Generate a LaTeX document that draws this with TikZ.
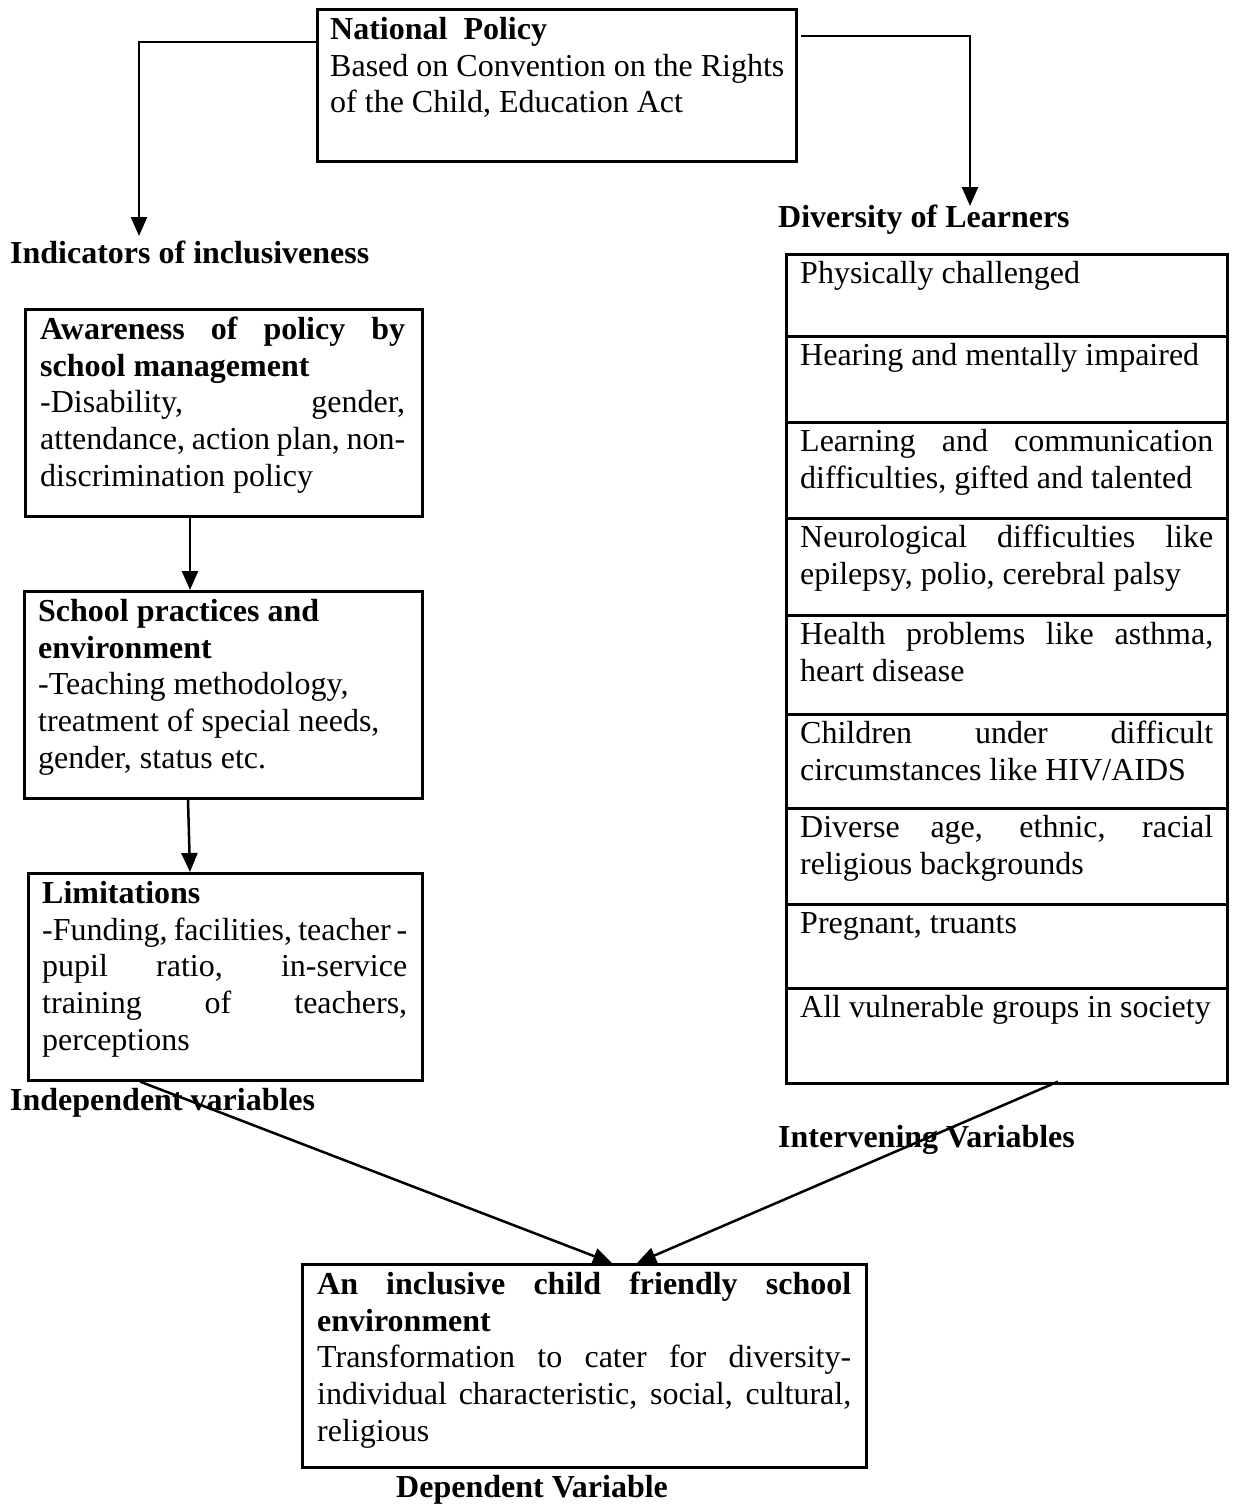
\documentclass[tikz,border=0pt]{standalone}
\usepackage{fontspec}
\setmainfont{Liberation Serif}
\usetikzlibrary{arrows.meta,calc}
\newcommand{\dsz}{\fontsize{32}{36.8}\selectfont}
\begin{document}
\begin{tikzpicture}[x=1pt,y=-1pt,
  box/.style={draw, line width=2.6pt, inner sep=0pt, anchor=north west},
  jtxt/.style={anchor=north west, inner sep=0pt, font=\dsz, align=justify},
  ltxt/.style={anchor=north west, inner sep=0pt, font=\dsz, align=left},
  lbl/.style={anchor=base west, inner sep=0pt, font=\dsz\bfseries},
  conn/.style={line width=2.5pt, -{Triangle[length=19pt,width=16pt]}}]
\useasboundingbox (0,0) rectangle (1232,1507);
% National policy
\node[box, minimum width=479, minimum height=152] (NP) at (316,8) {};
\node[ltxt] (NPt) at (330,13.4) {\strut\textbf{National\ \ Policy}\\Based on Convention on the Rights\\of the Child, Education Act};
% labels
\node[lbl] (IND) at (10,263) {Indicators of inclusiveness};
\node[lbl] (DIV) at (778,227) {Diversity of Learners};
\node[lbl] (INDEP) at (10,1110) {Independent variables};
\node[lbl] (INTV) at (778,1147) {Intervening Variables};
\node[lbl] (DEP) at (396,1497) {Dependent Variable};
\coordinate (npL) at (316,42);
\coordinate (npR) at (801,36);
\coordinate (indA) at (139,236);
\coordinate (divA) at (970,206);
\draw[conn] (NP.west |- npL) -| (indA);
\draw[conn] (npR) -| (divA);
% left column
\node[box, minimum width=397, minimum height=207] (AW) at (24,308) {};
\node[jtxt, text width=365] (AWt) at (40,313.4) {\noindent\strut\textbf{Awareness of policy by\linebreak school management}\\-Disability, gender,\linebreak attendance, action plan, non-\linebreak discrimination policy};
\node[box, minimum width=398, minimum height=207] (SP) at (23,590) {};
\node[ltxt] (SPt) at (38,595.4) {\strut\textbf{School practices and}\\\textbf{environment}\\-Teaching methodology,\\treatment of special needs,\\gender, status etc.};
\node[box, minimum width=394, minimum height=207] (LM) at (27,872) {};
\node[jtxt, text width=365] (LMt) at (42,877.4) {\noindent\strut\textbf{Limitations}\\-Funding, facilities, teacher -\linebreak pupil ratio, in-service\linebreak training of teachers,\linebreak perceptions};
\draw[conn] ($(AW.south west)+(166,0)$) -- ($(SP.north west)+(167,0)$);
\draw[conn] ($(SP.south west)+(165,0)$) -- ($(LM.north west)+(163,0)$);
% right column table
\node[box, minimum width=441, minimum height=82] (c1) at (785,253) {};
\node[box, minimum width=441, minimum height=86] (c2) at (785,335) {};
\node[box, minimum width=441, minimum height=96] (c3) at (785,421) {};
\node[box, minimum width=441, minimum height=97] (c4) at (785,517) {};
\node[box, minimum width=441, minimum height=99] (c5) at (785,614) {};
\node[box, minimum width=441, minimum height=94] (c6) at (785,713) {};
\node[box, minimum width=441, minimum height=96] (c7) at (785,807) {};
\node[box, minimum width=441, minimum height=84] (c8) at (785,903) {};
\node[box, minimum width=441, minimum height=95] (c9) at (785,987) {};
\node[jtxt, text width=413] (t1) at ($(c1.north west)+(15,4.4)$) {\noindent\strut Physically challenged};
\node[jtxt, text width=413] (t2) at ($(c2.north west)+(15,4.4)$) {\noindent\strut Hearing and mentally impaired};
\node[jtxt, text width=413] (t3) at ($(c3.north west)+(15,4.4)$) {\noindent\strut Learning and communication\linebreak difficulties, gifted and talented};
\node[jtxt, text width=413] (t4) at ($(c4.north west)+(15,4.4)$) {\noindent\strut Neurological difficulties like\linebreak epilepsy, polio, cerebral palsy};
\node[jtxt, text width=413] (t5) at ($(c5.north west)+(15,4.4)$) {\noindent\strut Health problems like asthma,\linebreak heart disease};
\node[jtxt, text width=413] (t6) at ($(c6.north west)+(15,4.4)$) {\noindent\strut Children under difficult\linebreak \mbox{circumstances like HIV/AIDS}};
\node[jtxt, text width=413] (t7) at ($(c7.north west)+(15,4.4)$) {\noindent\strut Diverse age, ethnic, racial\linebreak religious backgrounds};
\node[jtxt, text width=413] (t8) at ($(c8.north west)+(15,4.4)$) {\noindent\strut Pregnant, truants};
\node[jtxt, text width=413] (t9) at ($(c9.north west)+(15,4.4)$) {\noindent\strut All vulnerable groups in society};
% bottom
\node[box, minimum width=564, minimum height=203] (BT) at (301,1263) {};
\node[jtxt, text width=534] (BTt) at (317,1268.4) {\noindent\strut\textbf{An inclusive child friendly school\linebreak environment}\\Transformation to cater for diversity-\linebreak individual characteristic, social, cultural,\linebreak religious};
\draw[conn] ($(LM.south west)+(113,0)$) -- ($(BT.north west)+(311,0)$);
\draw[conn] ($(c9.south west)+(273,-3)$) -- ($(BT.north west)+(336,0)$);
\end{tikzpicture}
\end{document}
